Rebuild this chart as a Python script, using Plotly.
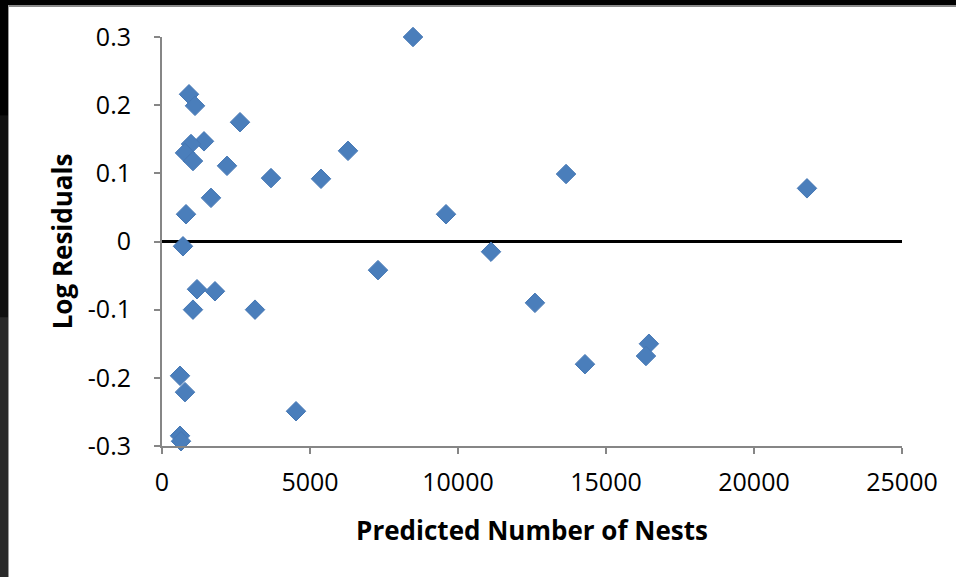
import plotly.graph_objects as go

predicted_nests = [8480, 912, 1115, 2635, 1419, 980, 777, 1047, 2196, 3682, 1655, 811, 709,
                   6284, 5372, 13650, 21790, 9595, 7297, 11115, 12600, 14290, 16450, 16350, 4527,
                   1182, 1790, 1047, 3142, 608, 777, 608, 642]
log_residuals = [0.300, 0.216, 0.199, 0.175, 0.147, 0.143, 0.130, 0.118, 0.111, 0.093, 0.064, 0.040, -0.007,
                 0.133, 0.092, 0.099, 0.078, 0.040, -0.042, -0.015, -0.090, -0.180, -0.150, -0.168, -0.249,
                 -0.070, -0.073, -0.100, -0.100, -0.197, -0.221, -0.285, -0.293]

x_ticks = [0, 5000, 10000, 15000, 20000, 25000]
y_ticks = [-0.3, -0.2, -0.1, 0, 0.1, 0.2, 0.3]
y_tick_labels = ["-0.3", "-0.2", "-0.1", "0", "0.1", "0.2", "0.3"]

FONT = "Open Sans, Liberation Sans, sans-serif"
W, H = 956, 577
ML, MR, MT, MB = 162, 54, 37, 131
PW, PH = W - ML - MR, H - MT - MB


def px_x(p):
    return (p - ML) / PW


def px_y(p):
    return (H - MB - p) / PH


fig = go.Figure()
fig.add_trace(go.Scatter(
    x=predicted_nests, y=log_residuals, mode="markers",
    marker=dict(symbol="diamond", size=15, color="#4A7EBB",
                line=dict(color="#4678B5", width=1)),
    showlegend=False, cliponaxis=False, hoverinfo="skip",
))

# screenshot frame (top bar and left edge)
shapes = [
    dict(type="rect", xref="paper", yref="paper", x0=px_x(0), x1=px_x(W), y0=px_y(7), y1=px_y(5),
         fillcolor="#8a8a8a", line_width=0, layer="above"),
    dict(type="rect", xref="paper", yref="paper", x0=px_x(0), x1=px_x(W), y0=px_y(5), y1=px_y(0),
         fillcolor="black", line_width=0, layer="above"),
    dict(type="rect", xref="paper", yref="paper", x0=px_x(0), x1=px_x(8), y0=px_y(H), y1=px_y(0),
         fillcolor="#2a2a2a", line_width=0, layer="above"),
    dict(type="rect", xref="paper", yref="paper", x0=px_x(0), x1=px_x(8), y0=px_y(H * 0.55), y1=px_y(0),
         fillcolor="#111111", line_width=0, layer="above"),
    dict(type="rect", xref="paper", yref="paper", x0=px_x(0), x1=px_x(8), y0=px_y(H * 0.2), y1=px_y(0),
         fillcolor="black", line_width=0, layer="above"),
    dict(type="rect", xref="paper", yref="paper", x0=px_x(8), x1=px_x(9), y0=px_y(H), y1=px_y(5),
         fillcolor="#9a9a9a", line_width=0, layer="above"),
]

fig.update_layout(
    width=W, height=H,
    margin=dict(l=ML, r=MR, t=MT, b=MB),
    paper_bgcolor="white", plot_bgcolor="white",
    font=dict(family=FONT, size=25, color="black"),
    shapes=shapes,
    xaxis=dict(
        range=[0, 25000], tickvals=x_ticks, ticktext=[str(v) for v in x_ticks],
        showgrid=False, zeroline=False,
        showline=True, linecolor="#868686", linewidth=2,
        ticks="outside", ticklen=6, tickcolor="#868686", tickwidth=2,
        ticklabelstandoff=7,
        title=dict(text="<b>Predicted Number of Nests</b>", font=dict(size=26), standoff=25),
    ),
    yaxis=dict(
        range=[-0.3, 0.3], tickvals=y_ticks, ticktext=y_tick_labels,
        showgrid=False,
        zeroline=True, zerolinecolor="black", zerolinewidth=3,
        showline=True, linecolor="#868686", linewidth=2,
        ticks="outside", ticklen=6, tickcolor="#868686", tickwidth=2,
        ticklabelstandoff=18,
        title=dict(text="<b>Log Residuals</b>", font=dict(size=26), standoff=8),
    ),
)

fig.write_html("out.html", config={"displayModeBar": False},
               post_script="document.body.style.margin='0';")
